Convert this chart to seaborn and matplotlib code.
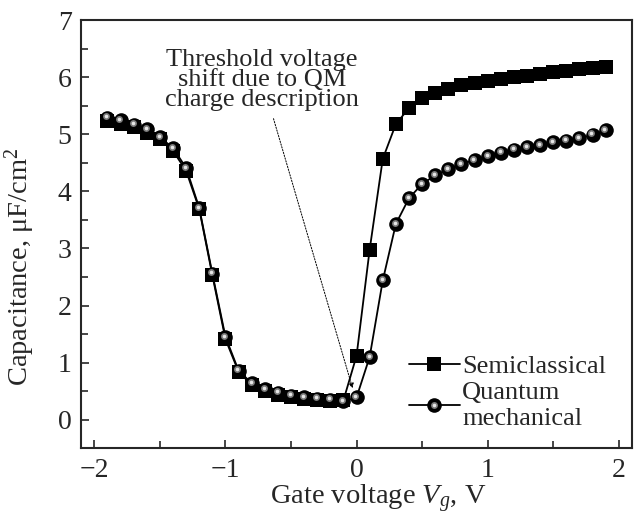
import numpy as np
import pandas as pd
import matplotlib.pyplot as plt
import seaborn as sns
from matplotlib.transforms import ScaledTranslation
from matplotlib.lines import Line2D
from matplotlib.legend_handler import HandlerTuple
from matplotlib.ticker import MultipleLocator

# gate voltage points, V
vg = [-1.9, -1.8, -1.7, -1.6, -1.5, -1.4, -1.3, -1.2, -1.1, -1.0,
      -0.9, -0.8, -0.7, -0.6, -0.5, -0.4, -0.3, -0.2, -0.1, 0.0,
      0.1, 0.2, 0.3, 0.4, 0.5, 0.6, 0.7, 0.8, 0.9, 1.0,
      1.1, 1.2, 1.3, 1.4, 1.5, 1.6, 1.7, 1.8, 1.9]

# capacitance, uF/cm^2
semiclassical = [5.24, 5.18, 5.12, 5.02, 4.91, 4.71, 4.36, 3.69, 2.53, 1.41,
                 0.84, 0.61, 0.50, 0.44, 0.40, 0.37, 0.35, 0.33, 0.34, 1.12,
                 2.98, 4.57, 5.18, 5.46, 5.63, 5.72, 5.80, 5.86, 5.90, 5.94,
                 5.97, 6.01, 6.03, 6.06, 6.09, 6.11, 6.14, 6.16, 6.18]
quantum = [5.29, 5.25, 5.17, 5.09, 4.95, 4.76, 4.41, 3.71, 2.56, 1.45,
           0.86, 0.64, 0.53, 0.47, 0.42, 0.39, 0.37, 0.35, 0.32, 0.39,
           1.10, 2.44, 3.43, 3.88, 4.13, 4.28, 4.39, 4.48, 4.55, 4.62,
           4.68, 4.73, 4.77, 4.81, 4.86, 4.89, 4.93, 4.99, 5.07]

df = pd.DataFrame({'vg': vg, 'semi': semiclassical, 'qm': quantum})

sns.set_style('ticks')
plt.rcParams['font.family'] = ['Liberation Serif', 'DejaVu Serif']
plt.rcParams['mathtext.fontset'] = 'custom'
plt.rcParams['mathtext.rm'] = 'Liberation Serif'
plt.rcParams['mathtext.it'] = 'Liberation Serif:italic'

fig = plt.figure(figsize=(6.35, 5.17), dpi=100)
ax = fig.add_axes([0.128, 0.133, 0.867, 0.828])

sns.lineplot(data=df, x='vg', y='semi', ax=ax, color='black', lw=1.3,
             marker='s', markersize=9.5, markeredgewidth=0, zorder=2)
sns.lineplot(data=df, x='vg', y='qm', ax=ax, color='black', lw=1.3,
             marker='o', markersize=10.5, markeredgewidth=0, zorder=3)
# shiny spot on each ball: grey halo + light core
shift = ScaledTranslation(-0.8 / 72, 1.0 / 72, fig.dpi_scale_trans)
ax.plot(df['vg'], df['qm'], ls='none', marker='o', markersize=5,
        color='#7a7a7a', markeredgewidth=0, zorder=4,
        transform=ax.transData + shift)
ax.plot(df['vg'], df['qm'], ls='none', marker='o', markersize=2.6,
        color='#e6e6e6', markeredgewidth=0, zorder=5,
        transform=ax.transData + shift)

ax.annotate('Threshold voltage\nshift due to QM\ncharge description',
            xy=(-0.03, 0.55), xytext=(-0.72, 5.95), ha='center', va='center',
            fontsize=19, linespacing=0.9,
            arrowprops=dict(arrowstyle='-|>', ls=(0, (1.5, 1.5)), lw=0.7,
                            color='black', mutation_scale=7,
                            shrinkA=3, shrinkB=0))

ax.set_xlim(-2.1, 2.1)
ax.set_ylim(-0.5, 7)
ax.xaxis.set_major_locator(MultipleLocator(1))
ax.xaxis.set_minor_locator(MultipleLocator(0.5))
ax.yaxis.set_major_locator(MultipleLocator(1))
ax.yaxis.set_minor_locator(MultipleLocator(0.5))
ax.set_xticks([-2, -1, 0, 1, 2], ['\u22122', '\u22121', '0', '1', '2'])
ax.tick_params(which='both', direction='in', labelsize=20, width=1.2,
               top=False, right=False)
ax.tick_params(which='major', length=6, pad=7)
ax.tick_params(which='minor', length=5)
for s in ax.spines.values():
    s.set_linewidth(1.5)

ax.set_xlabel('Gate voltage $V_g$, V', fontsize=20.5)
ax.set_ylabel('Capacitance, \u03bcF/cm$^2$', fontsize=20.5)
ax.xaxis.set_label_coords(0.54, -0.08)
ax.yaxis.set_label_coords(-0.08, 0.425)

h_semi = Line2D([], [], color='black', lw=1.3, marker='s', markersize=9.5,
                markeredgewidth=0)
h_qm = Line2D([], [], color='black', lw=1.3, marker='o', markersize=10.5,
              markeredgewidth=0)
h_halo = Line2D([], [], ls='none', marker='o', markersize=5,
                color='#7a7a7a', markeredgewidth=0)
h_core = Line2D([], [], ls='none', marker='o', markersize=2.6,
                color='#e6e6e6', markeredgewidth=0)
ax.legend([h_semi, (h_qm, h_halo, h_core)],
          ['Semiclassical', 'Quantum\nmechanical'],
          handler_map={tuple: HandlerTuple(ndivide=1, pad=0)},
          loc='lower right', bbox_to_anchor=(0.987, 0.0), frameon=False,
          fontsize=19, handlelength=1.9, handletextpad=0.1,
          labelspacing=0.15, borderaxespad=0.3)

fig.savefig('out.png', dpi=100)
